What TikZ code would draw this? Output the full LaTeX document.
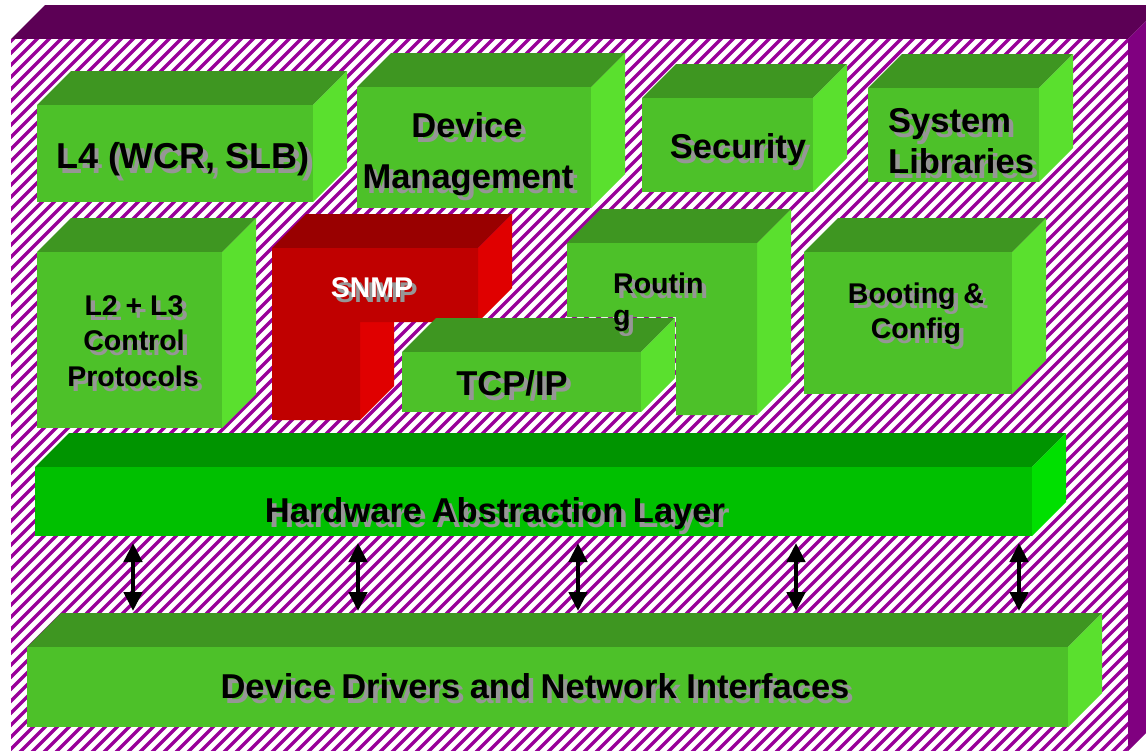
\documentclass[tikz,border=0pt]{standalone}
\usepackage{fontspec}
\setmainfont{Liberation Sans}
\usetikzlibrary{arrows.meta}

\definecolor{stripe}{RGB}{153,0,153}
\definecolor{bgtop}{RGB}{92,0,85}
\definecolor{bgside}{RGB}{128,0,128}
\definecolor{gfront}{RGB}{77,193,41}
\definecolor{gtop}{RGB}{62,150,33}
\definecolor{gside}{RGB}{90,224,46}
\definecolor{hfront}{RGB}{0,192,0}
\definecolor{htop}{RGB}{0,148,0}
\definecolor{hside}{RGB}{0,224,0}
\definecolor{rfront}{RGB}{192,0,0}
\definecolor{rtop}{RGB}{153,0,0}
\definecolor{rside}{RGB}{224,0,0}
\definecolor{shade}{RGB}{150,150,150}

% 3D block: x1 y1 x2 y2 (front face), front, top, side colours
\newcommand\block[7]{%
  \fill[#6] (#1,#2) -- (#1+34,#2-34) -- (#3+34,#2-34) -- (#3,#2) -- cycle;
  \fill[#7] (#3,#2) -- (#3+34,#2-34) -- (#3+34,#4-34) -- (#3,#4) -- cycle;
  \fill[#5] (#1,#2) rectangle (#3,#4);}

% text with a grey drop shadow behind it
\newcommand\shadowed[1]{%
  \makebox[0pt][l]{\kern4.5pt\raisebox{-5pt}{\textcolor{shade}{#1}}}#1}

% label: [options]{name}{x}{baseline y}{text}
\newcommand\lbl[5][]{%
  \node[txt,#1] (#2) at (#3,#4) {\shadowed{#5}};}

\tikzset{
  txt/.style={anchor=base,inner sep=0pt,text=black},
  big/.style={font=\bfseries\fontsize{34.5}{40}\selectfont},
  huge/.style={font=\bfseries\fontsize{36}{42}\selectfont},
  small/.style={font=\bfseries\fontsize{28.5}{34}\selectfont},
  link/.style={line width=4.5pt,{Triangle[width=18pt,length=19pt]}-{Triangle[width=18pt,length=19pt]}}
}

\begin{document}
\begin{tikzpicture}[x=1pt,y=-1pt]
\useasboundingbox (0,0) rectangle (1146,750);
\fill[white] (0,0) rectangle (1146,750);

% enclosing purple box with hatched front
\fill[bgtop] (11,39) -- (45,5) -- (1162,5) -- (1128,39) -- cycle;
\fill[bgside] (1128,39) -- (1162,5) -- (1162,717) -- (1128,751) -- cycle;
\begin{scope}
  \clip (11,39) rectangle (1128,751);
  \fill[white] (11,39) rectangle (1128,751);
  \foreach \i in {-66,...,96}
    \draw[stripe,line width=3.4pt] (\i*12,760) -- ++(780,-780);
\end{scope}

% top row
\block{37}{105}{313}{202}{gfront}{gtop}{gside}
\block{357}{87}{591}{208}{gfront}{gtop}{gside}
\block{642}{98}{813}{192}{gfront}{gtop}{gside}
\block{868}{88}{1039}{182}{gfront}{gtop}{gside}

% middle row
\block{37}{252}{222}{428}{gfront}{gtop}{gside}

% SNMP (L-shaped)
\fill[rtop] (272,248) -- (306,214) -- (512,214) -- (478,248) -- cycle;
\fill[rside] (478,248) -- (512,214) -- (512,288) -- (478,322) -- cycle;
\fill[rside] (360,322) -- (394,288) -- (394,386) -- (360,420) -- cycle;
\fill[rfront] (272,248) -- (478,248) -- (478,322) -- (360,322) -- (360,420) -- (272,420) -- cycle;

% Routing (L-shaped)
\fill[gtop] (567,243) -- (601,209) -- (791,209) -- (757,243) -- cycle;
\fill[gside] (757,243) -- (791,209) -- (791,381) -- (757,415) -- cycle;
\fill[gfront] (567,243) -- (757,243) -- (757,415) -- (676,415) -- (676,317) -- (567,317) -- cycle;

% TCP/IP
\fill[gtop] (402,352) -- (436,318) -- (675,318) -- (641,352) -- cycle;
\fill[gside] (641,352) -- (675,318) -- (675,378) -- (641,412) -- cycle;
\fill[gfront] (402,352) rectangle (641,412);

\block{804}{252}{1012}{394}{gfront}{gtop}{gside}

% hardware abstraction layer
\block{35}{467}{1032}{536}{hfront}{htop}{hside}

% device drivers
\block{27}{647}{1068}{727}{gfront}{gtop}{gside}

% labels
\lbl[huge]{l4}{183}{168}{L4 (WCR, SLB)}
\lbl[big]{dev1}{467}{137}{Device}
\lbl[big]{dev2}{468}{188}{Management}
\lbl[big]{sec}{738}{158}{Security}
\lbl[big,anchor=base west]{sys1}{888}{132}{System}
\lbl[big,anchor=base west]{sys2}{888}{173}{Libraries}
\lbl[small]{l23a}{134}{315}{L2 + L3}
\lbl[small]{l23b}{134}{350}{Control}
\lbl[small]{l23c}{133}{386}{Protocols}
\lbl[small,text=white]{snmp}{372}{297}{SNMP}
\lbl[small,anchor=base west]{rt1}{613}{293}{Routin}
\lbl[small,anchor=base west]{rt2}{613}{325}{g}
\lbl[big]{tcp}{512}{395}{TCP/IP}
\lbl[small]{bt1}{916}{303}{Booting \&}
\lbl[small]{bt2}{916}{338}{Config}
\lbl[big]{hal}{495}{522}{Hardware Abstraction Layer}
\lbl[big]{dd}{535}{698}{Device Drivers and Network Interfaces}

% links between the two layers
\foreach \n/\x in {1/133,2/358,3/578,4/796,5/1019}{
  \coordinate (up\n) at (\x,543);
  \coordinate (dn\n) at (\x,611);
  \draw[link] (up\n) -- (dn\n);
}
\end{tikzpicture}
\end{document}
